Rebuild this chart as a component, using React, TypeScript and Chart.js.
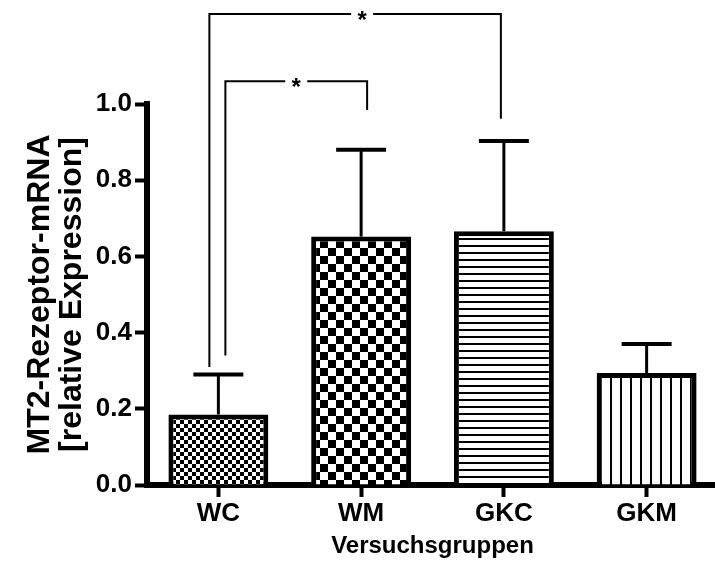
import React, { useEffect, useRef } from 'react';
import { Chart, registerables } from 'chart.js';

Chart.register(...registerables);

// ---- data ----
const categories = ['WC', 'WM', 'GKC', 'GKM'];
const means = [0.185, 0.652, 0.666, 0.294];
const sems = [0.105, 0.228, 0.237, 0.076];
const yTicks = [0, 0.2, 0.4, 0.6, 0.8, 1.0];
const yTitle = ['MT2-Rezeptor-mRNA', '[relative Expression]'];
const xTitle = 'Versuchsgruppen';

// significance brackets
const bracketFrom = ['WC', 'WC'];
const bracketTo = ['WM', 'GKC'];
const bracketTop = [1.06, 1.236];
const bracketLeftEnd = [0.34, 0.31];
const bracketRightEnd = [0.984, 0.961];
const bracketMark = ['*', '*'];

// ---- styles ----
const FONT = 'Liberation Sans, Arial, sans-serif';
const bracketStyle = {
  leftOffset: [7, -9],
  rightOffset: [6, -3],
  starOffset: [0, 7],
};

function makePattern(kind: string): CanvasPattern | string {
  const c = document.createElement('canvas');
  let g: CanvasRenderingContext2D | null = null;
  if (kind === 'fineCheck') {
    c.width = 8; c.height = 8;
    g = c.getContext('2d')!;
    g.fillStyle = '#fff'; g.fillRect(0, 0, 8, 8);
    g.fillStyle = '#000'; g.fillRect(0, 0, 4, 4); g.fillRect(4, 4, 4, 4);
  } else if (kind === 'bigCheck') {
    c.width = 16; c.height = 16;
    g = c.getContext('2d')!;
    g.fillStyle = '#fff'; g.fillRect(0, 0, 16, 16);
    g.fillStyle = '#000'; g.fillRect(0, 0, 8, 8); g.fillRect(8, 8, 8, 8);
  } else if (kind === 'hLines') {
    c.width = 8; c.height = 7;
    g = c.getContext('2d')!;
    g.fillStyle = '#fff'; g.fillRect(0, 0, 8, 7);
    g.fillStyle = '#000'; g.fillRect(0, 0, 8, 2);
  } else {
    c.width = 10; c.height = 8;
    g = c.getContext('2d')!;
    g.fillStyle = '#fff'; g.fillRect(0, 0, 10, 8);
    g.fillStyle = '#000'; g.fillRect(0, 0, 2, 8);
  }
  return g.createPattern(c, 'repeat') || '#fff';
}

const errorBarPlugin = {
  id: 'errorBars',
  afterDatasetsDraw(chart: any) {
    const meta = chart.getDatasetMeta(0);
    const ys = chart.scales.y;
    const ctx = chart.ctx as CanvasRenderingContext2D;
    ctx.save();
    ctx.strokeStyle = '#000';
    meta.data.forEach((bar: any, i: number) => {
      const x = bar.x;
      const y0 = ys.getPixelForValue(means[i]);
      const y1 = ys.getPixelForValue(means[i] + sems[i]);
      const half = bar.width / 4;
      ctx.lineWidth = 3;
      ctx.beginPath(); ctx.moveTo(x, y0); ctx.lineTo(x, y1); ctx.stroke();
      ctx.lineWidth = 4;
      ctx.beginPath(); ctx.moveTo(x - half, y1); ctx.lineTo(x + half, y1); ctx.stroke();
    });
    ctx.restore();
  },
};

const bracketPlugin = {
  id: 'brackets',
  afterDraw(chart: any) {
    const xs = chart.scales.x;
    const ys = chart.scales.y;
    const ctx = chart.ctx as CanvasRenderingContext2D;
    ctx.save();
    ctx.strokeStyle = '#000';
    ctx.fillStyle = '#000';
    ctx.lineWidth = 2;
    bracketFrom.forEach((from, i) => {
      const xl = xs.getPixelForValue(categories.indexOf(from)) + bracketStyle.leftOffset[i];
      const xr = xs.getPixelForValue(categories.indexOf(bracketTo[i])) + bracketStyle.rightOffset[i];
      const yt = ys.getPixelForValue(bracketTop[i]);
      const yl = ys.getPixelForValue(bracketLeftEnd[i]);
      const yr = ys.getPixelForValue(bracketRightEnd[i]);
      const sx = (xl + xr) / 2 + bracketStyle.starOffset[i];
      const gap = 11;
      ctx.beginPath();
      ctx.moveTo(xl, yl); ctx.lineTo(xl, yt); ctx.lineTo(sx - gap, yt);
      ctx.moveTo(sx + gap, yt); ctx.lineTo(xr, yt); ctx.lineTo(xr, yr);
      ctx.stroke();
      ctx.font = `bold 24px ${FONT}`;
      ctx.textAlign = 'center';
      ctx.textBaseline = 'alphabetic';
      ctx.fillText(bracketMark[i], sx, yt + 14);
    });
    ctx.restore();
  },
};

export default function App() {
  const ref = useRef<HTMLCanvasElement | null>(null);

  useEffect(() => {
    if (!ref.current) return;
    const patterns = [
      makePattern('fineCheck'),
      makePattern('bigCheck'),
      makePattern('hLines'),
      makePattern('vLines'),
    ];
    const tickFont = { family: FONT, size: 26, weight: 'bold' as const };
    const chart = new Chart(ref.current, {
      type: 'bar',
      data: {
        labels: categories,
        datasets: [
          {
            data: means,
            backgroundColor: patterns as any,
            borderColor: '#000',
            borderWidth: 5,
            borderSkipped: 'start',
            barPercentage: 0.7,
            categoryPercentage: 1.0,
          },
        ],
      },
      options: {
        responsive: false,
        animation: false,
        layout: { padding: { left: 0, right: 0, top: 104, bottom: 0 } },
        plugins: { legend: { display: false }, tooltip: { enabled: false } },
        scales: {
          x: {
            type: 'category',
            offset: true,
            z: 1,
            grid: {
              display: true,
              drawOnChartArea: false,
              drawTicks: true,
              tickLength: 12,
              tickWidth: 4,
              tickColor: '#000',
              offset: false,
            },
            border: { display: true, color: '#000', width: 6 },
            ticks: { color: '#000', font: tickFont, padding: 1, maxRotation: 0, autoSkip: false },
            title: {
              display: true,
              text: xTitle,
              color: '#000',
              font: { family: FONT, size: 24, weight: 'bold' },
              padding: { top: 0, bottom: 22 },
            },
            afterFit: (s: any) => { s.height = 98; },
          },
          y: {
            min: 0,
            max: 1,
            z: 1,
            afterBuildTicks: (s: any) => { s.ticks = yTicks.map((v) => ({ value: v })); },
            grid: {
              display: true,
              drawOnChartArea: false,
              drawTicks: true,
              tickLength: 12,
              tickWidth: 4,
              tickColor: '#000',
            },
            border: { display: true, color: '#000', width: 6 },
            ticks: {
              color: '#000',
              font: tickFont,
              padding: 3,
              callback: (v: any) => Number(v).toFixed(1),
            },
            title: {
              display: true,
              text: yTitle,
              color: '#000',
              font: { family: FONT, size: 32, weight: 'bold', lineHeight: 1.0 },
              padding: { top: 24, bottom: 0 },
            },
            afterFit: (s: any) => { s.width = 147; },
          },
        },
      },
      plugins: [errorBarPlugin, bracketPlugin],
    });
    return () => chart.destroy();
  }, []);

  return (
    <div style={{ position: 'absolute', left: 0, top: 0, width: 715, height: 583, overflow: 'hidden', background: '#fff' }}>
      <canvas ref={ref} width={718} height={583} style={{ display: 'block', width: 718, height: 583 }} />
    </div>
  );
}
